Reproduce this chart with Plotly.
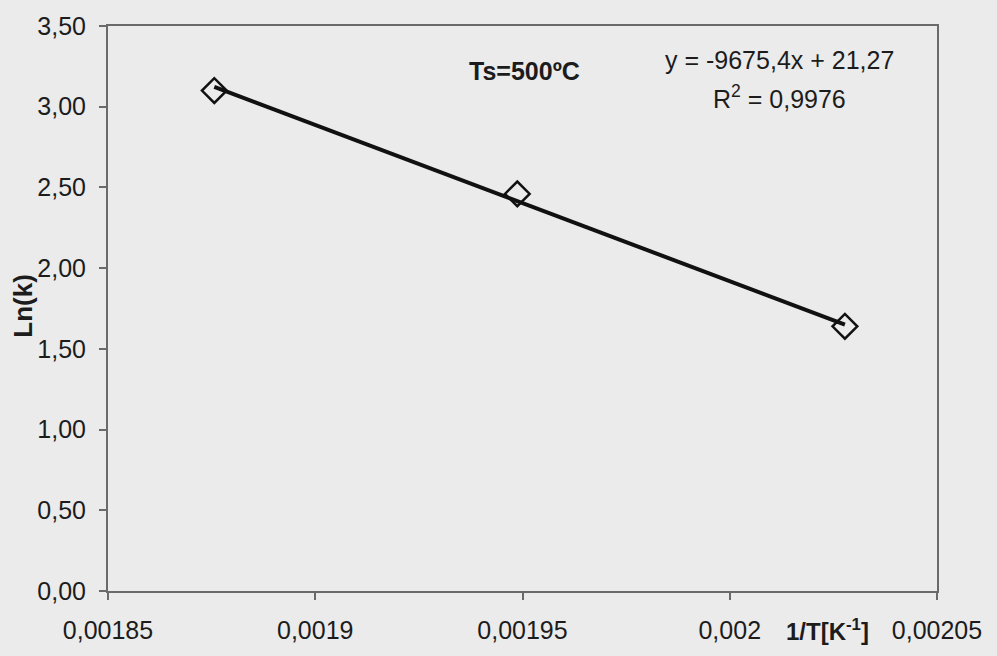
import numpy as np
import plotly.graph_objects as go

# Arrhenius data: reciprocal temperature and ln of rate constant
inv_T = [1 / 533.15, 1 / 513.15, 1 / 493.15]
ln_k = [3.10, 2.46, 1.64]

# Linear trendline as reported on the chart
slope = -9675.4
intercept = 21.27
r_squared = 0.9976

x_tick_vals = [0.00185, 0.0019, 0.00195, 0.002, 0.00205]
x_tick_text = ["0,00185", "0,0019", "0,00195", "0,002", "0,00205"]
y_tick_vals = [0.0, 0.5, 1.0, 1.5, 2.0, 2.5, 3.0, 3.5]
y_tick_text = ["0,00", "0,50", "1,00", "1,50", "2,00", "2,50", "3,00", "3,50"]

FONT = "Liberation Sans, Arial, sans-serif"
INK = "#1c1c1c"
AXIS = "#6a6a6a"
BG = "#ebebeb"

fit_x = np.array([inv_T[0], inv_T[-1]])
fit_y = slope * fit_x + intercept

fig = go.Figure()
fig.add_trace(go.Scatter(
    x=fit_x, y=fit_y, mode="lines",
    line=dict(color="#111111", width=4),
    hoverinfo="skip", showlegend=False,
))
fig.add_trace(go.Scatter(
    x=inv_T, y=ln_k, mode="markers",
    marker=dict(symbol="diamond-open", size=19, color="#111111",
                line=dict(color="#111111", width=2.5)),
    showlegend=False,
))

fig.add_annotation(
    x=0.0019506, y=3.22, xref="x", yref="y", showarrow=False,
    text="<b>Ts=500ºC</b>", font=dict(family=FONT, size=25, color=INK),
)
fig.add_annotation(
    x=0.002012, y=3.29, xref="x", yref="y", showarrow=False,
    text=f"y = {slope:.1f}x + {intercept:.2f}".replace(".", ","),
    font=dict(family=FONT, size=25, color=INK),
)
fig.add_annotation(
    x=0.002012, y=3.06, xref="x", yref="y", showarrow=False,
    text=f"R<sup>2</sup> = {r_squared:.4f}".replace(".", ","),
    font=dict(family=FONT, size=25, color=INK),
)
fig.add_annotation(
    x=0.0020237, y=0, xref="x", yref="y", yshift=-39, showarrow=False,
    text="<b>1/T[K<sup>-1</sup>]</b>", font=dict(family=FONT, size=24, color=INK),
)
fig.add_annotation(
    x=-0.1025, y=0.505, xref="paper", yref="paper", showarrow=False, textangle=-90,
    xanchor="center", yanchor="middle",
    text="<b>Ln(k)</b>", font=dict(family=FONT, size=26, color=INK),
)

fig.update_xaxes(
    range=[0.00185, 0.00205], tickvals=x_tick_vals, ticktext=x_tick_text,
    showgrid=False, zeroline=False, showline=True, linecolor=AXIS, linewidth=2,
    mirror=True, ticks="outside", ticklen=7, tickwidth=2, tickcolor=AXIS,
    ticklabelstandoff=9,
    tickfont=dict(family=FONT, size=25, color=INK),
)
fig.update_yaxes(
    range=[0, 3.5], tickvals=y_tick_vals, ticktext=y_tick_text,
    showgrid=False, zeroline=False, showline=True, linecolor=AXIS, linewidth=2,
    mirror=True, ticks="outside", ticklen=7, tickwidth=2, tickcolor=AXIS,
    ticklabelstandoff=8,
    tickfont=dict(family=FONT, size=25, color=INK),
)
fig.update_layout(
    width=997, height=656,
    margin=dict(l=108, r=60, t=21, b=62),
    paper_bgcolor=BG, plot_bgcolor=BG,
    showlegend=False,
)

fig.write_html("out.html")
